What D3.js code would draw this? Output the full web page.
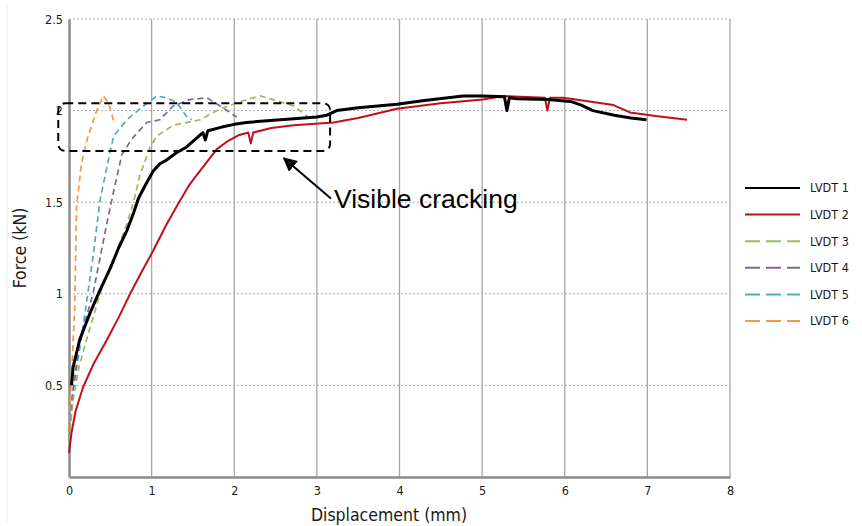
<!DOCTYPE html>
<html>
<head>
<meta charset="utf-8">
<script src="https://cdn.jsdelivr.net/npm/d3@7"></script>
<style>
  body { margin: 0; background: #fff; }
  svg { display: block; }
</style>
</head>
<body>
<div id="wrapper"></div>
<script>
// LVDT force-displacement readings, [displacement mm, force kN]
const lvdt1 = [[0.03,0.5],[0.05,0.6],[0.13,0.75],[0.25,0.89],[0.375,1.02],[0.5,1.14],[0.6,1.25],[0.7,1.345],[0.78,1.44],[0.84,1.52],[0.92,1.59],[1.02,1.67],[1.1,1.71],[1.18,1.73],[1.3,1.77],[1.42,1.8],[1.52,1.84],[1.62,1.88],[1.65,1.84],[1.68,1.89],[1.85,1.91],[2.0,1.925],[2.15,1.935],[2.4,1.945],[2.72,1.955],[3.0,1.965],[3.12,1.975],[3.24,2.0],[3.5,2.015],[3.97,2.035],[4.3,2.055],[4.77,2.08],[5.0,2.08],[5.27,2.075],[5.3,2.0],[5.33,2.07],[5.42,2.065],[5.8,2.06],[6.07,2.05],[6.2,2.03],[6.34,2.0],[6.6,1.975],[6.8,1.96],[6.99,1.95]]
const lvdt2 = [[0,0.13],[0.03,0.24],[0.08,0.36],[0.17,0.49],[0.3,0.62],[0.456,0.746],[0.6,0.87],[0.74,1.0],[0.88,1.12],[1.02,1.236],[1.17,1.37],[1.32,1.49],[1.45,1.59],[1.55,1.65],[1.67,1.72],[1.79,1.79],[1.91,1.83],[2.05,1.865],[2.17,1.88],[2.2,1.82],[2.23,1.88],[2.45,1.905],[2.72,1.92],[3.2,1.935],[3.5,1.96],[3.97,2.01],[4.5,2.04],[5.01,2.06],[5.26,2.08],[5.76,2.07],[5.79,2.0],[5.82,2.07],[5.98,2.07],[6.3,2.05],[6.59,2.03],[6.79,1.99],[7.1,1.97],[7.48,1.95]]
const lvdt3 = [[0,0.2],[0.05,0.42],[0.12,0.6],[0.21,0.746],[0.375,1.0],[0.55,1.2],[0.7,1.38],[0.78,1.5],[0.86,1.65],[0.98,1.8],[1.06,1.86],[1.26,1.92],[1.59,1.95],[1.83,2.01],[2.15,2.06],[2.31,2.08],[2.47,2.06],[2.72,2.025],[2.88,1.97],[2.96,1.95]]
const lvdt4 = [[0,0.2],[0.04,0.45],[0.13,0.746],[0.29,1.0],[0.456,1.38],[0.55,1.58],[0.64,1.76],[0.76,1.845],[0.94,1.935],[1.1,1.95],[1.26,2.025],[1.46,2.06],[1.67,2.07],[1.83,2.025],[2.03,1.965]]
const lvdt5 = [[0,0.2],[0.06,0.5],[0.17,0.82],[0.29,1.2],[0.375,1.51],[0.5,1.78],[0.54,1.86],[0.7,1.95],[0.86,2.01],[1.06,2.08],[1.18,2.07],[1.3,2.045],[1.42,1.97],[1.485,1.95]]
const lvdt6 = [[0,0.25],[0.03,0.55],[0.07,0.93],[0.09,1.47],[0.15,1.71],[0.23,1.86],[0.335,2.0],[0.415,2.08],[0.475,2.045],[0.54,1.945]]

const seriesNames = ["LVDT 1", "LVDT 2", "LVDT 3", "LVDT 4", "LVDT 5", "LVDT 6"]
const seriesData = [lvdt1, lvdt2, lvdt3, lvdt4, lvdt5, lvdt6]
const xTicks = [0, 1, 2, 3, 4, 5, 6, 7, 8]
const yTicks = [0.5, 1, 1.5, 2, 2.5]

const colors = ["#000000", "#c0101a", "#9bbb59", "#8064a2", "#4bacc6", "#f79646"]
const dashed = [false, false, true, true, true, true]
const widths = [3, 2, 1.7, 1.7, 1.7, 1.7]

const width = 862
const height = 526
const plotLeft = 69, plotRight = 730, plotTop = 19, plotBottom = 477

const svg = d3.select("#wrapper").append("svg")
    .attr("width", width)
    .attr("height", height)

// faint chart frame
svg.append("line")
    .attr("x1", 7).attr("x2", 7).attr("y1", 4).attr("y2", 522)
    .style("stroke", "#ececec")

const x = d3.scaleLinear().domain([0, 8]).range([plotLeft, plotRight])
const y = d3.scaleLinear().domain([0, 2.5]).range([plotBottom, plotTop])

// horizontal dotted grid
svg.append("g").selectAll("line")
    .data(yTicks)
    .enter().append("line")
    .attr("x1", plotLeft).attr("x2", plotRight)
    .attr("y1", d => y(d)).attr("y2", d => y(d))
    .style("stroke", "#b0b0b0")
    .style("stroke-width", 1)
    .style("stroke-dasharray", "2,2")

// vertical solid grid
svg.append("g").selectAll("line")
    .data(xTicks.slice(1))
    .enter().append("line")
    .attr("x1", d => x(d)).attr("x2", d => x(d))
    .attr("y1", plotTop).attr("y2", plotBottom)
    .style("stroke", "#a6a6a6")
    .style("stroke-width", 1.3)

// axes
const xAxis = d3.axisBottom(x).tickValues(xTicks).tickSize(0).tickPadding(9)
const yAxis = d3.axisLeft(y).tickValues(yTicks).tickSize(0).tickPadding(6)
    .tickFormat(d => d)

const gx = svg.append("g")
    .attr("transform", "translate(0," + plotBottom + ")")
    .call(xAxis)
const gy = svg.append("g")
    .attr("transform", "translate(" + plotLeft + ",0)")
    .call(yAxis)
;[gx, gy].forEach(g => {
    g.select(".domain").style("stroke", "#8c8c8c").style("stroke-width", 2.5)
    g.selectAll("text")
        .style("font-family", "'DejaVu Sans Condensed', 'DejaVu Sans', sans-serif")
        .style("font-size", "12.5px")
        .style("fill", "#1a1a1a")
})

svg.append("text")
    .attr("x", 389)
    .attr("y", 521)
    .attr("text-anchor", "middle")
    .style("font-family", "'DejaVu Sans Condensed', 'DejaVu Sans', sans-serif")
    .style("font-size", "17.5px")
    .style("fill", "#1a1a1a")
    .text("Displacement (mm)")

svg.append("text")
    .attr("transform", "translate(26,248) rotate(-90)")
    .attr("text-anchor", "middle")
    .style("font-family", "'DejaVu Sans Condensed', 'DejaVu Sans', sans-serif")
    .style("font-size", "17.5px")
    .style("fill", "#1a1a1a")
    .text("Force (kN)")

// curves
const line = d3.line()
    .x(d => x(d[0]))
    .y(d => y(d[1]))

// draw dashed ones first so solid lines sit on top, like the original
const order = [5, 4, 3, 2, 1, 0]
order.forEach(i => {
    svg.append("path")
        .datum(seriesData[i])
        .attr("d", line)
        .style("fill", "none")
        .style("stroke", colors[i])
        .style("stroke-width", widths[i])
        .style("stroke-linejoin", "round")
        .style("stroke-dasharray", dashed[i] ? "6,4" : null)
})

// cracking annotation box
svg.append("rect")
    .attr("x", x(-0.13)).attr("y", y(2.04))
    .attr("width", x(3.16) - x(-0.13))
    .attr("height", y(1.78) - y(2.04))
    .attr("rx", 7)
    .style("fill", "none")
    .style("stroke", "#000")
    .style("stroke-width", 2)
    .style("stroke-dasharray", "8,5")

svg.append("defs").append("marker")
    .attr("id", "arrow")
    .attr("viewBox", "0 0 10 10")
    .attr("refX", 9).attr("refY", 5)
    .attr("markerWidth", 7).attr("markerHeight", 7)
    .attr("orient", "auto")
    .append("path")
    .attr("d", "M0,0 L10,5 L0,10 z")
    .style("fill", "#000")

svg.append("line")
    .attr("x1", x(3.17)).attr("y1", y(1.52))
    .attr("x2", x(2.6)).attr("y2", y(1.74))
    .style("stroke", "#000")
    .style("stroke-width", 2)
    .attr("marker-end", "url(#arrow)")

svg.append("text")
    .attr("x", 334)
    .attr("y", 208)
    .style("font-family", "'Liberation Sans', Arial, sans-serif")
    .style("font-size", "26.5px")
    .style("fill", "#000")
    .text("Visible cracking")

// legend
const legend = svg.append("g")
seriesNames.forEach((name, i) => {
    const ly = 188 + i * 26.6
    legend.append("line")
        .attr("x1", 745).attr("x2", 800)
        .attr("y1", ly).attr("y2", ly)
        .style("stroke", colors[i])
        .style("stroke-width", 2)
        .style("stroke-dasharray", dashed[i] ? "15,6" : null)
    legend.append("text")
        .attr("x", 810)
        .attr("y", ly)
        .attr("dy", "0.35em")
        .style("font-family", "'DejaVu Sans Condensed', 'DejaVu Sans', sans-serif")
        .style("font-size", "12.5px")
        .style("fill", "#1a1a1a")
        .text(name)
})
</script>
</body>
</html>
